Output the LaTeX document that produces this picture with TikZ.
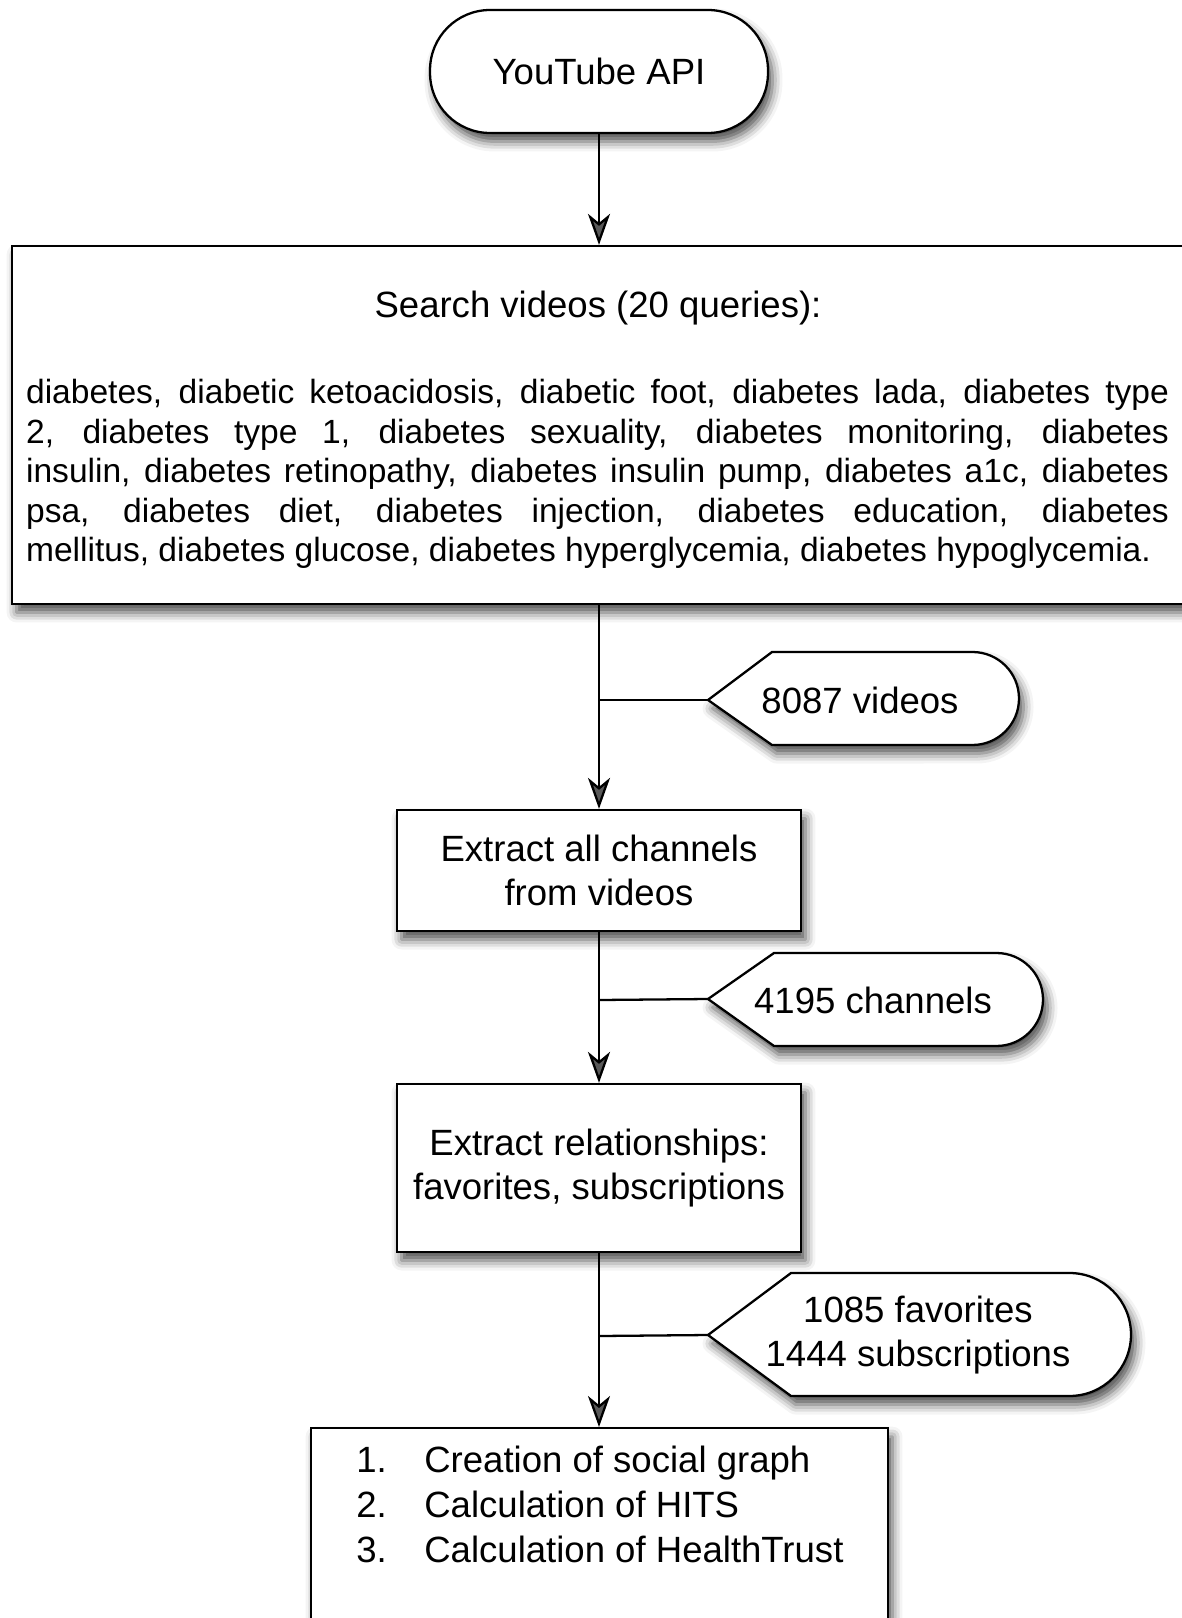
\documentclass[tikz,border=0pt]{standalone}
\usepackage{fontspec}
\setmainfont{Liberation Sans}
\usetikzlibrary{arrows.meta,shadows.blur}
\begin{document}
\begin{tikzpicture}[x=0.02cm,y=-0.02cm,
  every node/.style={font=\fontsize{20.8pt}{25.5pt}\selectfont},
  shad/.style={blur shadow={shadow xshift=0.09cm,shadow yshift=-0.17cm,shadow blur radius=0.2cm,shadow opacity=70}},
  box/.style={draw,line width=1.3pt,fill=white,shad,inner sep=0pt},
  conn/.style={line width=1.3pt},
  arr/.style={conn,-{Stealth[length=0.62cm,width=0.44cm,inset=0.18cm]}},
  txt/.style={inner sep=0pt,align=center}]
\path[use as bounding box] (0,0) rectangle (1182,1618);
\clip (0,0) rectangle (1182,1618);

% main boxes
\node[box,rounded corners=1.2cm,minimum width=6.76cm,minimum height=2.46cm] (api) at (599,71.5) {YouTube API};
\node[box,minimum width=23.56cm,minimum height=7.16cm] (search) at (601,425) {};
\node[txt] (stitle) at (598,308) {Search videos (20 queries):};
\node[inner sep=0pt,text width=22.86cm,align=justify,font=\fontsize{19.1pt}{22.4pt}\selectfont] (sbody) at (597.5,474)
 {\hyphenpenalty=10000\relax\exhyphenpenalty=10000\relax
  diabetes, diabetic ketoacidosis, diabetic foot, diabetes lada, diabetes type\linebreak
  2, diabetes type 1, diabetes sexuality, diabetes monitoring, diabetes\linebreak
  insulin, diabetes retinopathy, diabetes insulin pump, diabetes a1c, diabetes\linebreak
  psa, diabetes diet, diabetes injection, diabetes education, diabetes\linebreak
  mellitus, diabetes glucose, diabetes hyperglycemia, diabetes hypoglycemia.};
\node[box,minimum width=8.08cm,minimum height=2.42cm,align=center] (chan) at (599,870.5) {Extract all channels\\from videos};
\node[box,minimum width=8.08cm,minimum height=3.36cm,align=center] (rel) at (599,1168) {Extract relationships:\\favorites, subscriptions};
\node[box,minimum width=11.54cm,minimum height=5cm,anchor=north] (final) at (599.5,1427) {};
\node[anchor=base west,inner sep=0pt] (n1) at (356,1472) {1.};
\node[anchor=base west,inner sep=0pt] (i1) at (424,1472) {Creation of social graph};
\node[anchor=base west,inner sep=0pt] (n2) at (356,1517) {2.};
\node[anchor=base west,inner sep=0pt] (i2) at (424,1517) {Calculation of HITS};
\node[anchor=base west,inner sep=0pt] (n3) at (356,1562) {3.};
\node[anchor=base west,inner sep=0pt] (i3) at (424,1562) {Calculation of HealthTrust};

% callouts
\coordinate (t1) at (708,700);
\path[box] (t1) -- (772,652) -- (972.5,652) arc[start angle=90,end angle=-90,radius=0.93cm] -- (772,745) -- cycle;
\node[txt] (c1) at (860,700) {8087 videos};
\coordinate (t2) at (708,999);
\path[box] (t2) -- (774,953) -- (996.5,953) arc[start angle=90,end angle=-90,radius=0.93cm] -- (774,1046) -- cycle;
\node[txt] (c2) at (873,1000) {4195 channels};
\coordinate (t3) at (708,1335);
\path[box] (t3) -- (791,1273) -- (1069.5,1273) arc[start angle=90,end angle=-90,radius=1.23cm] -- (791,1396) -- cycle;
\node[txt] (c3) at (918,1335) {1085 favorites\\1444 subscriptions};

% connectors
\draw[arr] (api.south) -- (search.north -| api.south);
\draw[arr] (search.south -| chan.north) -- (chan.north);
\draw[arr] (chan.south) -- (rel.north);
\draw[arr] (rel.south) -- (final.north -| rel.south);
\coordinate (j1) at (599,700);
\coordinate (j2) at (599,1000);
\coordinate (j3) at (599,1336);
\draw[conn] (j1) -- (t1);
\draw[conn] (j2) -- (t2);
\draw[conn] (j3) -- (t3);
\end{tikzpicture}
\end{document}
